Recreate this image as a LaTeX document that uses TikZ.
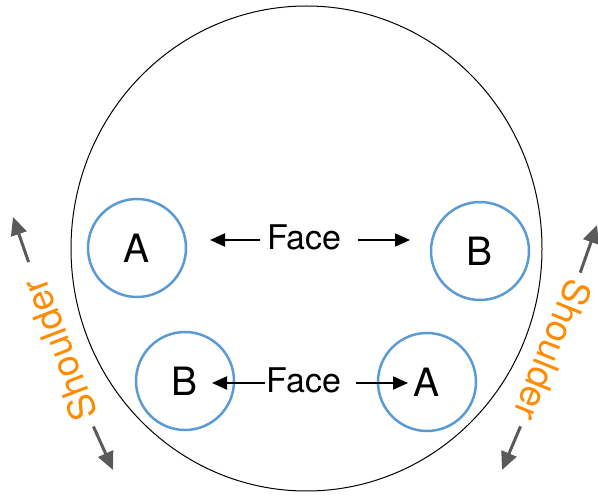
\documentclass[tikz,border=0pt]{standalone}
\usepackage{fontspec}
\setmainfont{TeX Gyre Heros}
\usetikzlibrary{positioning,arrows.meta}
\definecolor{ringblue}{RGB}{91,155,213}
\definecolor{shoulderorange}{RGB}{255,140,0}
\definecolor{pushgray}{RGB}{90,90,90}

\begin{document}
\begin{tikzpicture}[
        x=1pt, y=-1pt,
        pad/.style={
                circle,
                draw=ringblue,
                line width=2.5pt,
                minimum size=98pt,
                inner sep=0pt,
                font=\fontsize{39}{39}\selectfont
            },
        facelabel/.style = {font=\fontsize{34}{34}\selectfont, inner sep=2pt},
        shoulder/.style = {text=shoulderorange, font=\fontsize{37}{37}\selectfont, inner sep=0pt},
        facearrow/.style = {-{Triangle[length=15pt,width=13pt]}, line width=2pt},
        pusharrow/.style = {-{Triangle[length=18pt,width=16pt]}, line width=3pt, draw=pushgray, fill=pushgray}
    ]
    \useasboundingbox (0,0) rectangle (598,497);

    % tire outline
    \draw[line width=1pt] (306.5,248.5) ellipse [x radius=235.5, y radius=242.5];

    % contact pads
    \node[pad] (topleft)  at (137,248) {A};
    \node[pad] (topright) at (480,251) {B};
    \node[pad] (botleft)  at (185,381) {B};
    \node[pad] (botright) at (427,382) {A};

    % face labels
    \node[facelabel] (topface) at (304.5,237.5) {Face};
    \node[facelabel] (botface) at (304,380) {Face};

    \coordinate (topleftend)  at (210,240);
    \coordinate (toprightend) at (410,240);
    \coordinate (botleftend)  at (212,383);
    \coordinate (botrightend) at (408,383);

    \draw[facearrow, shorten <=5pt]  (topface.west |- topleftend)  -- (topleftend);
    \draw[facearrow, shorten <=14pt] (topface.east |- toprightend) -- (toprightend);
    \draw[facearrow]                 (botface.west |- botleftend)  -- (botleftend);
    \draw[facearrow, shorten <=13pt] (botface.east |- botrightend) -- (botrightend);

    % shoulder labels
    \node[shoulder, rotate=111]  (leftshoulder)  at (59,350)  {Shoulder};
    \node[shoulder, rotate=-112] (rightshoulder) at (553,350) {Shoulder};

    \coordinate (leftup)    at (13,217);
    \coordinate (leftdown)  at (113,470);
    \coordinate (rightup)   at (597,225);
    \coordinate (rightdown) at (502,470);

    \draw[pusharrow, shorten <=93pt] (leftshoulder.center)  -- (leftup);
    \draw[pusharrow, shorten <=84pt] (leftshoulder.center)  -- (leftdown);
    \draw[pusharrow, shorten <=82pt] (rightshoulder.center) -- (rightup);
    \draw[pusharrow, shorten <=83pt] (rightshoulder.center) -- (rightdown);
\end{tikzpicture}
\end{document}
